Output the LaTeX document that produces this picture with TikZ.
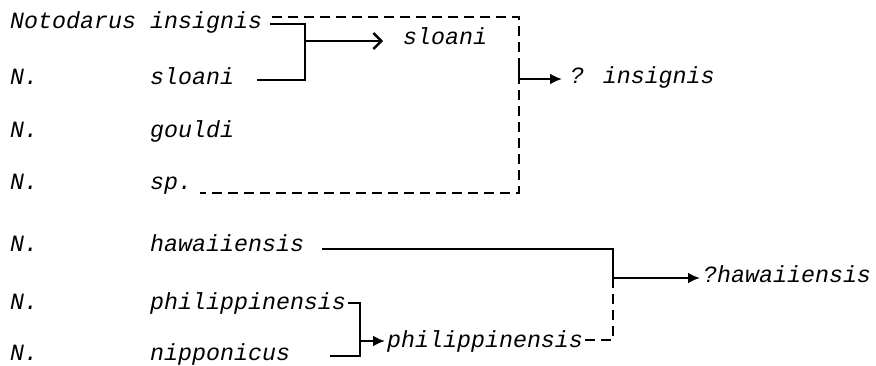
\documentclass[tikz,border=0pt]{standalone}
\usepackage{fontspec}
\newfontfamily\typewriter{Liberation Mono}
\usetikzlibrary{arrows.meta}
\tikzstyle{taxon}=[anchor=base west,inner sep=0pt,font=\typewriter\itshape\fontsize{23.3}{28}\selectfont]
\tikzstyle{branch}=[line width=2.4pt]
\tikzstyle{orientedarc}=[branch,-{Latex[length=12pt,width=11pt]}]
\tikzstyle{openarc}=[branch,-{Straight Barb[length=8pt,width=16pt]}]
\tikzstyle{guess}=[branch,dash pattern=on 10pt off 6pt]
\begin{document}
\begin{tikzpicture}[x=1pt,y=-1pt]
\useasboundingbox (0,0) rectangle (876,366);

\node[taxon] (G1) at (10,29) {Notodarus};
\node[taxon] (G2) at (10,85) {N.};
\node[taxon] (G3) at (10,138) {N.};
\node[taxon] (G4) at (10,190) {N.};
\node[taxon] (G5) at (10,252) {N.};
\node[taxon] (G6) at (10,309) {N.};
\node[taxon] (G7) at (10,360) {N.};

\node[taxon] (S1) at (150,29) {insignis};
\node[taxon] (S2) at (150,85) {sloani};
\node[taxon] (S3) at (150,138) {gouldi};
\node[taxon] (S4) at (150,190) {sp.};
\node[taxon] (S5) at (150,252) {hawaiiensis};
\node[taxon] (S6) at (150,309) {philippinensis};
\node[taxon] (S7) at (150,360) {nipponicus};

\node[taxon] (R1) at (403,45) {sloani};
\node[taxon] (R2) at (570,84) {? insignis};
\node[taxon] (R3) at (387,347) {philippinensis};
\node[taxon] (R4) at (703,283) {?hawaiiensis};

\coordinate[shift={(8,-5)}] (S1E) at (S1.base east);
\coordinate[shift={(10,-12)}] (S1D) at (S1.base east);
\coordinate[shift={(23,-5)}] (S2E) at (S2.base east);
\coordinate[shift={(8,3)}] (S4D) at (S4.base east);
\coordinate[shift={(18,-3)}] (S5E) at (S5.base east);
\coordinate[shift={(2,-6)}] (S6E) at (S6.base east);
\coordinate[shift={(40,-4)}] (S7E) at (S7.base east);
\coordinate[shift={(2,-7)}] (R3D) at (R3.base east);

\coordinate (J1) at (305,41);
\coordinate (J2) at (519,79);
\coordinate (J3) at (613,278);
\coordinate (J4) at (360,341);

% insignis + sloani
\draw[branch] (S1E) -| (J1);
\draw[branch] (S2E) -| (J1);
\draw[openarc, shorten >=20pt] (J1) -- (J1 -| R1.base west);

% insignis, sloani, gouldi, sp.
\draw[guess] (S1D) -| (J2) |- (S4D);
\draw[branch] ([yshift=11pt]J2) -- (J2);
\draw[orientedarc, shorten >=8pt] (J2) -- (J2 -| R2.base west);

% philippinensis + nipponicus
\draw[branch] (S6E) -| (J4);
\draw[branch] (S7E) -| (J4);
\draw[orientedarc, shorten >=2pt] (J4) -- (J4 -| R3.base west);

% hawaiiensis
\draw[branch] (S5E) -| (J3);
\draw[guess] (R3D) -| (J3);
\draw[orientedarc, shorten >=3pt] (J3) -- (J3 -| R4.base west);

\end{tikzpicture}
\end{document}
